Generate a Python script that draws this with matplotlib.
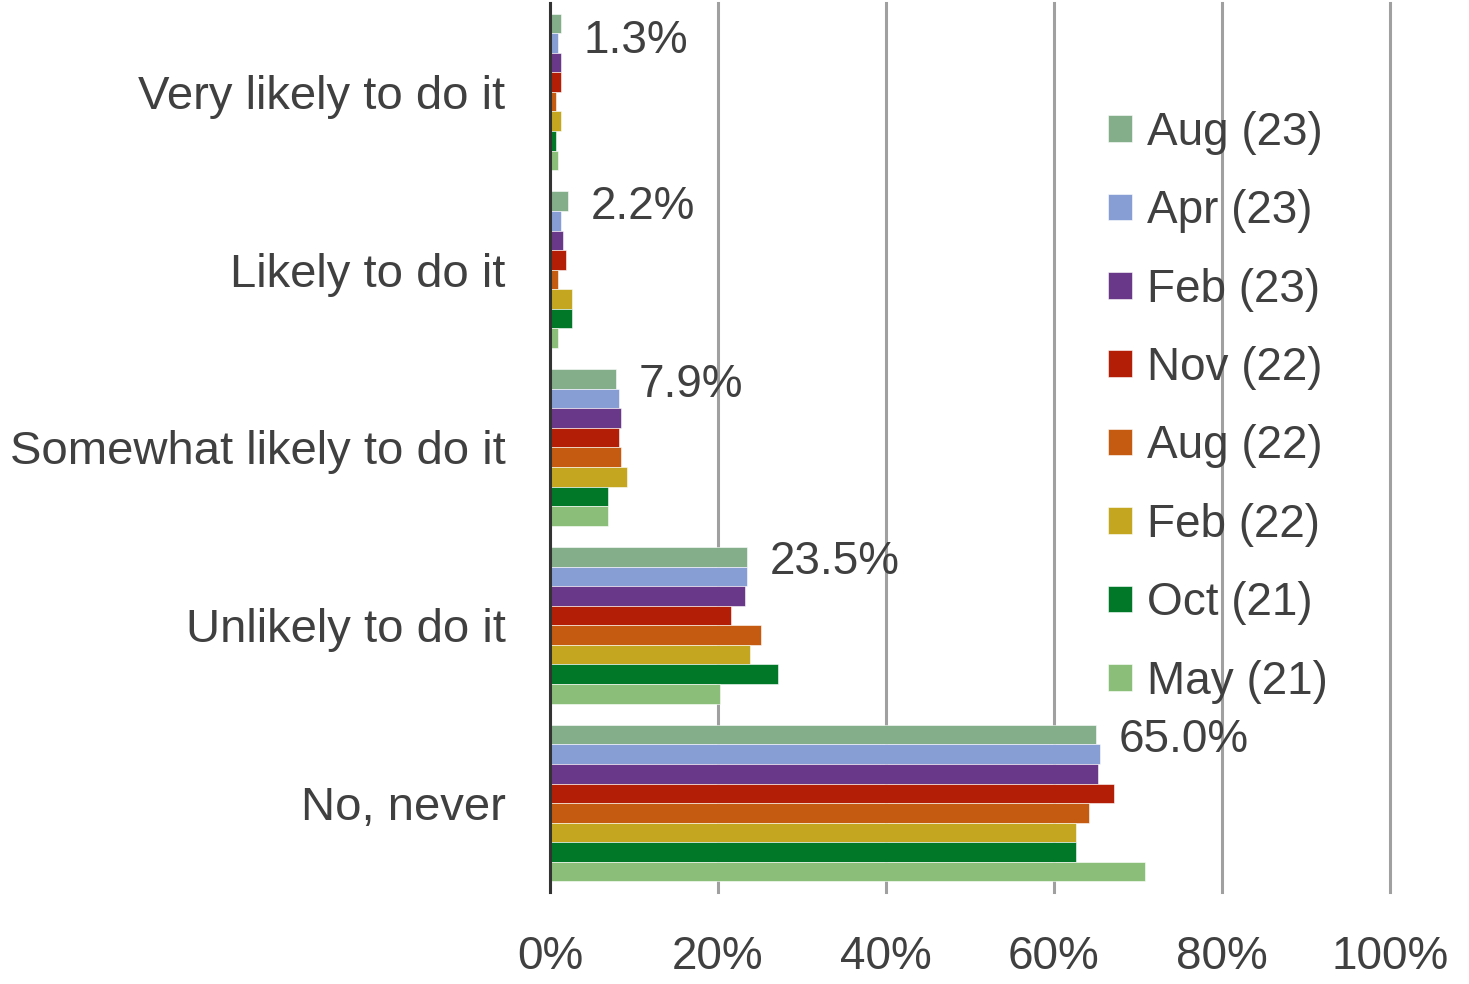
import numpy as np
import matplotlib.pyplot as plt

plt.rcParams['font.family'] = ['Liberation Sans', 'DejaVu Sans']

categories = ['Very likely to do it', 'Likely to do it', 'Somewhat likely to do it',
              'Unlikely to do it', 'No, never']
series = ['Aug (23)', 'Apr (23)', 'Feb (23)', 'Nov (22)', 'Aug (22)', 'Feb (22)', 'Oct (21)', 'May (21)']
colors = ['#84AD89', '#869ED4', '#6A3889', '#B21F06', '#C55B10', '#C4A621', '#007828', '#8BBE78']

# values (%) per series, in category order
aug23 = [1.3, 2.2, 7.9, 23.5, 65.0]
apr23 = [1.0, 1.3, 8.2, 23.5, 65.5]
feb23 = [1.3, 1.6, 8.5, 23.2, 65.2]
nov22 = [1.3, 1.9, 8.2, 21.5, 67.2]
aug22 = [0.7, 1.0, 8.5, 25.1, 64.2]
feb22 = [1.3, 2.6, 9.2, 23.8, 62.6]
oct21 = [0.7, 2.6, 6.9, 27.1, 62.6]
may21 = [1.0, 1.0, 6.9, 20.2, 70.8]
values = [aug23, apr23, feb23, nov22, aug22, feb22, oct21, may21]

text_col = '#404040'
fs = 33

fig = plt.figure(figsize=(14.69, 9.84), dpi=100)
ax = fig.add_axes([0.3744, 0.0935, 0.5718, 0.9035])

y = np.arange(len(categories))
h = 0.11
for j, (name, vals) in enumerate(zip(series, values)):
    ax.barh(y + (j - 3.5) * h, vals, height=h, color=colors[j], label=name,
            edgecolor='white', linewidth=0.4, zorder=3)

# data labels for the latest wave (top one pushed down to stay inside the plot)
for i, v in enumerate(aug23):
    dy = -13 if i == 0 else -4
    ax.annotate(f'{v:.1f}%', xy=(v, y[i] - 3.5 * h), xytext=(16, dy),
                textcoords='offset points', va='center', ha='left',
                fontsize=fs, color=text_col)

ax.set_ylim(len(categories) - 0.5, -0.5)
ax.set_xlim(0, 100)
ax.set_yticks(y)
ax.set_yticklabels(categories, fontsize=fs + 1, color=text_col)
ax.set_xticks(np.arange(0, 101, 20))
ax.set_xticklabels([f'{t}%' for t in range(0, 101, 20)], fontsize=fs, color=text_col)
ax.tick_params(axis='y', length=0, pad=32)
ax.tick_params(axis='x', length=0, pad=31)

ax.grid(axis='x', color='#A0A0A0', linewidth=2.2, zorder=0)
for gl in ax.get_xgridlines():
    gl.set_clip_on(False)
for s in ['top', 'right', 'bottom']:
    ax.spines[s].set_visible(False)
ax.spines['left'].set_color('#333333')
ax.spines['left'].set_linewidth(2.2)
ax.spines['left'].set_zorder(4)

ax.legend(loc='upper left', bbox_to_anchor=(0.6155, 0.925), frameon=False,
          fontsize=fs, labelcolor=text_col, handlelength=0.52, handleheight=0.52,
          handletextpad=0.32, labelspacing=0.75)

fig.savefig('out.png', dpi=100)
